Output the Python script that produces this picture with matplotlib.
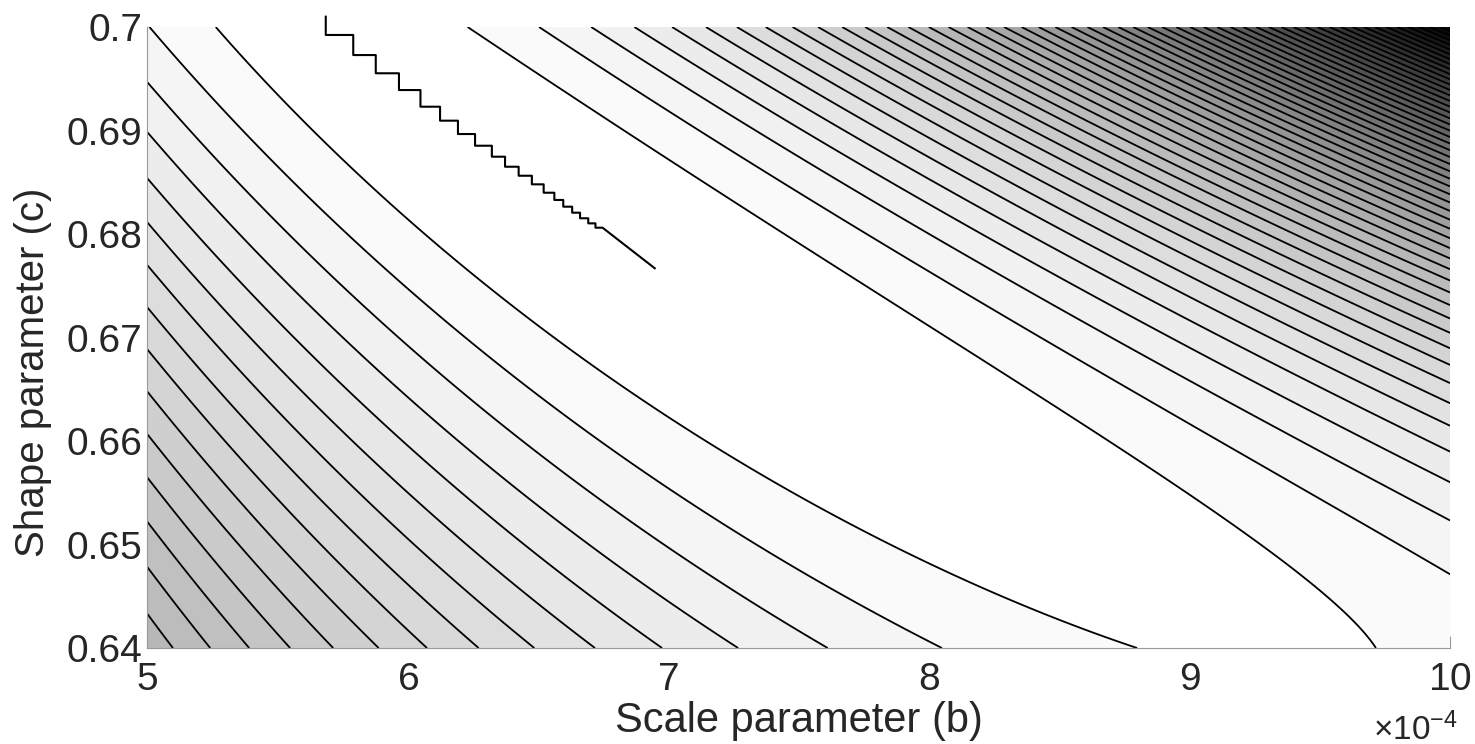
import numpy as np
import matplotlib
matplotlib.use('Agg')
import matplotlib.pyplot as plt
from matplotlib.colors import ListedColormap, BoundaryNorm
from matplotlib.ticker import ScalarFormatter, FormatStrFormatter

plt.rcParams['font.family'] = ['Liberation Sans', 'DejaVu Sans']
plt.rcParams['mathtext.fontset'] = 'custom'
plt.rcParams['mathtext.rm'] = 'Liberation Sans'

# surface fitted to the contour crossings
# (b in units of 1e-4, t = (c - 0.67) / 0.03)
valley = [1.9876, -0.2401, -0.0020]                 # ln b of the valley floor vs t
left_wall = [3.2478, 5.1605, 0.2319]                # steepness, log amplitude, slope
right_steep = [2.5749, 0.5468, -0.3511]             # steepness vs t
right_amp = [5.0725, 0.1369, 0.0336]                # log amplitude vs t
floor = [0.1186, -0.2750, 0.4360]                   # value along the valley floor
levels = list(range(1, 54))                         # contour levels drawn

# staircase contour near the valley floor (corner points)
stair_b = [5.6857, 5.7912, 5.8776, 5.9666, 6.0491, 6.1243, 6.1930, 6.2586, 6.3231, 6.3737,
           6.4259, 6.4766, 6.5219, 6.5629, 6.5971, 6.6312, 6.6615, 6.6930, 6.7206, 6.7479]
stair_c = [0.69923, 0.69729, 0.69553, 0.69391, 0.69230, 0.69095, 0.68966, 0.68853, 0.68747,
           0.68650, 0.68563, 0.68480, 0.68399, 0.68329, 0.68264, 0.68206, 0.68152, 0.68103, 0.68061]
stair_start_c = 0.70100
stair_end = (6.9482, 0.67669)


def poly(coef, t):
    return coef[0] + coef[1] * t + coef[2] * t * t


def surface(b, c):
    t = (c - 0.67) / 0.03
    u = np.log(b) - poly(valley, t)
    p = np.where(u < 0, left_wall[0], poly(right_steep, t))
    amp = np.where(u < 0, np.exp(left_wall[1] + left_wall[2] * t), np.exp(poly(right_amp, t)))
    g = (np.exp(p * u) - 1 - p * u) / p ** 2
    return poly(floor, t) + amp * g


b = np.linspace(5, 10, 700)
c = np.linspace(0.64, 0.70, 500)
BB, CC = np.meshgrid(b, c)
Z = surface(BB, CC)

fill_levels = [Z.min() - 1] + levels + [max(Z.max(), levels[-1]) + 1]
nband = len(fill_levels) - 1
greys = [1 - i / (nband - 1) for i in range(nband)]
cmap = ListedColormap([(g, g, g) for g in greys])
norm = BoundaryNorm(fill_levels, nband)

# staircase path
sx = [stair_b[0]]
sy = [stair_start_c]
for i in range(len(stair_c)):
    sx += [stair_b[i], stair_b[i + 1]]
    sy += [stair_c[i], stair_c[i]]
sx.append(stair_end[0])
sy.append(stair_end[1])

fig = plt.figure(figsize=(14.75, 7.44), dpi=100)
ax = fig.add_axes([0.0997, 0.129, 0.8834, 0.8347])
ax.contourf(BB * 1e-4, CC, Z, levels=fill_levels, cmap=cmap, norm=norm)
ax.contour(BB * 1e-4, CC, Z, levels=levels, colors='k', linewidths=1.3)
ax.plot(np.array(sx) * 1e-4, sy, color='k', lw=1.5, clip_on=False)

ax.set_xlim(5e-4, 1e-3)
ax.set_ylim(0.64, 0.70)
ax.set_axisbelow(True)
for s in ['top', 'right']:
    ax.spines[s].set_visible(False)
for s in ['left', 'bottom']:
    ax.spines[s].set_color('#999999')
ax.tick_params(direction='in', length=9, color='#999999', labelsize=28, labelcolor='#262626')
ax.tick_params(axis='x', pad=10)
fmt = ScalarFormatter(useMathText=True)
fmt.set_powerlimits((-4, -4))
ax.xaxis.set_major_formatter(fmt)
ax.xaxis.get_offset_text().set_visible(False)
ax.text(1.006, -0.148, r'$\times\mathregular{10^{-4}}$', transform=ax.transAxes,
        ha='right', va='baseline', fontsize=24, color='#262626')
ax.yaxis.set_major_formatter(FormatStrFormatter('%g'))
ax.set_xlabel('Scale parameter (b)', fontsize=30, color='#262626', labelpad=2)
ax.set_ylabel('Shape parameter (c)', fontsize=29, color='#262626')
ax.yaxis.set_label_coords(-0.073, 0.444)
fig.savefig('out.png')
